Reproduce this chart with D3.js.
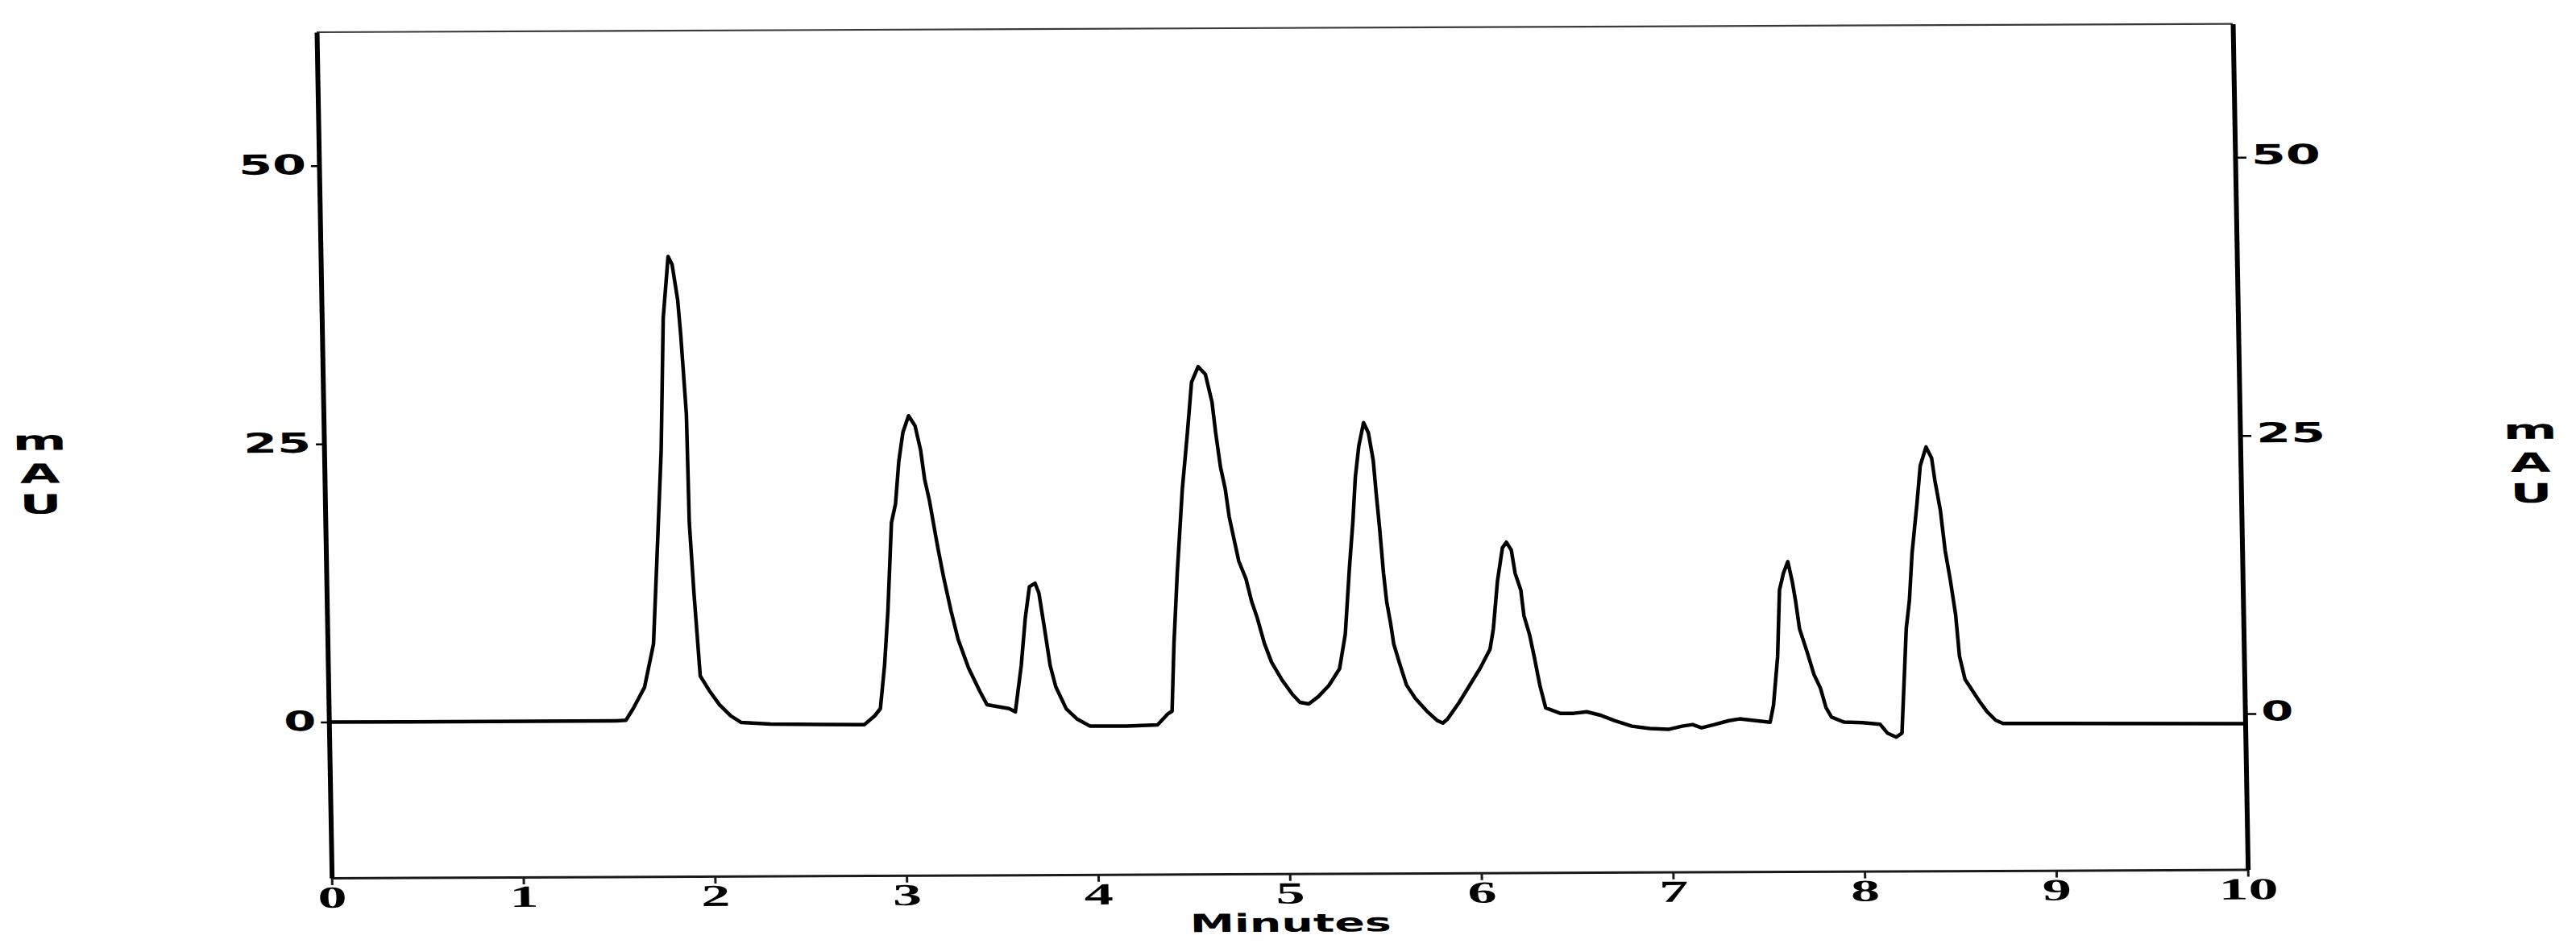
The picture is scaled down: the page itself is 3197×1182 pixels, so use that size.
<!DOCTYPE html>
<html>
<head>
<meta charset="utf-8">
<script src="https://cdn.jsdelivr.net/npm/d3@7"></script>
<style>
  html, body { margin: 0; padding: 0; background: #ffffff; }
  svg { display: block; }
</style>
</head>
<body>
<svg id="chart" width="3197" height="1182"></svg>
<script>
// ---- data ----
const xTicks = [0, 1, 2, 3, 4, 5, 6, 7, 8, 9, 10];
const yTicks = [0, 25, 50];
const xTitle = "Minutes";
const yTitle = "mAU";

const times = [
  0.00, 1.50, 1.55, 1.589, 1.650, 1.701, 1.727, 1.759, 1.782, 1.813, 1.833, 1.859, 1.872, 1.894, 1.899,
  1.917, 1.942, 1.987, 2.040, 2.098, 2.152, 2.304, 2.793, 2.849, 2.879, 2.905, 2.927, 2.954, 2.977,
  2.998, 3.022, 3.053, 3.086, 3.113, 3.131, 3.154, 3.178, 3.195, 3.222, 3.256, 3.291, 3.343, 3.400,
  3.436, 3.550, 3.583, 3.618, 3.643, 3.668, 3.698, 3.717, 3.744, 3.769, 3.796, 3.849, 3.903, 3.970,
  4.164, 4.324, 4.380, 4.401, 4.417, 4.441, 4.475, 4.507, 4.533, 4.569, 4.606, 4.638, 4.654, 4.676,
  4.699, 4.717, 4.740, 4.763, 4.799, 4.826, 4.854, 4.889, 4.925, 4.978, 5.031, 5.069, 5.115, 5.166,
  5.222, 5.279, 5.312, 5.340, 5.362, 5.379, 5.400, 5.427, 5.451, 5.474, 5.487, 5.501, 5.517, 5.531,
  5.550, 5.564, 5.592, 5.627, 5.672, 5.730, 5.784, 5.813, 5.838, 5.899, 5.956, 6.013, 6.066, 6.085,
  6.111, 6.140, 6.161, 6.186, 6.204, 6.232, 6.246, 6.274, 6.297, 6.323, 6.351, 6.426, 6.497, 6.565,
  6.632, 6.708, 6.799, 6.892, 6.989, 7.061, 7.116, 7.162, 7.230, 7.306, 7.361, 7.446, 7.521, 7.540,
  7.566, 7.582, 7.604, 7.628, 7.650, 7.665, 7.683, 7.719, 7.754, 7.787, 7.814, 7.842, 7.905, 8.003,
  8.095, 8.132, 8.178, 8.208, 8.221, 8.240, 8.259, 8.277, 8.308, 8.328, 8.360, 8.388, 8.403, 8.429,
  8.450, 8.473, 8.499, 8.515, 8.542, 8.579, 8.616, 8.653, 8.698, 8.736, 10.00
];
const absorbance = [
  0.0, 0.0, 0.05, 1.1, 3.0, 6.9, 14.6, 24.3, 36.2, 41.7, 41.0, 37.8, 34.6, 27.5, 17.8,
  11.4, 4.0, 2.7, 1.4, 0.4, -0.2, -0.35, -0.45, 0.35, 1.0, 4.9, 9.7, 17.7, 19.4,
  23.2, 25.8, 27.3, 26.4, 24.2, 21.6, 19.7, 17.1, 15.3, 12.7, 9.8, 7.2, 4.6, 2.5,
  1.3, 0.95, 0.65, 4.8, 9.0, 11.9, 12.2, 11.3, 8.0, 4.8, 2.9, 0.9, 0.0, -0.65,
  -0.68, -0.57, 0.43, 0.65, 6.7, 13.1, 20.6, 25.7, 30.2, 31.6, 30.9, 28.4, 25.7, 22.6,
  20.6, 18.1, 16.1, 14.1, 12.5, 10.5, 9.0, 6.7, 5.0, 3.4, 2.1, 1.4, 1.25, 1.9,
  2.9, 4.4, 7.5, 13.5, 17.6, 21.6, 24.4, 26.5, 25.6, 23.1, 20.0, 17.0, 13.0, 10.4,
  8.4, 6.6, 4.9, 2.9, 1.7, 0.56, -0.3, -0.53, -0.16, 1.3, 2.85, 4.4, 6.1, 7.9,
  12.2, 15.2, 15.7, 15.0, 12.9, 11.4, 9.1, 7.35, 5.3, 2.8, 0.8, 0.3, 0.3, 0.43,
  0.14, -0.37, -0.88, -1.1, -1.18, -0.9, -0.76, -1.05, -0.77, -0.42, -0.27, -0.43, -0.58, 0.94,
  5.3, 11.3, 12.8, 13.85, 12.0, 10.3, 7.8, 5.8, 3.7, 2.45, 0.7, -0.15, -0.59, -0.66,
  -0.81, -1.6, -1.97, -1.6, 2.2, 7.8, 10.3, 14.5, 19.1, 22.4, 24.1, 23.1, 21.1, 18.4,
  14.8, 12.3, 9.0, 5.3, 3.2, 2.2, 1.2, 0.3, -0.49, -0.78, -0.9
];

// ---- layout ----
const W = 2378, H = 1050;
const SANS = "'DejaVu Sans', 'Liberation Sans', Arial, sans-serif";
const SERIF = "'Liberation Serif', 'DejaVu Serif', 'Times New Roman', serif";

const svg = d3.select("#chart");
svg.append("rect").attr("width", 3197).attr("height", 1182).attr("fill", "#ffffff");

// slight skew/rotation of the scanned sheet
const g = svg.append("g").attr("transform", "matrix(1,-0.0044,0.0178,1,393,40)");

const x = d3.scaleLinear().domain([0, 10]).range([0, W]);
const y = d3.scaleLinear().domain([-14, 62]).range([H, 0]);

// top border
g.append("line")
  .attr("x1", x(0)).attr("x2", x(10))
  .attr("y1", 0).attr("y2", 0)
  .attr("stroke", "#3a3a3a").attr("stroke-width", 2.2);

// bottom axis
const xAxisG = g.append("g")
  .attr("transform", `translate(0,${H})`)
  .call(d3.axisBottom(x).tickValues(xTicks).tickSize(9).tickSizeOuter(0).tickFormat(d3.format("d")));
xAxisG.select(".domain").attr("stroke", "#1a1a1a").attr("stroke-width", 3);
xAxisG.selectAll(".tick line").attr("stroke", "#1a1a1a").attr("stroke-width", 3);
xAxisG.selectAll(".tick text")
  .attr("y", 37).attr("dy", 0)
  .attr("fill", "#000")
  .style("font-family", SERIF).style("font-weight", "bold").style("font-size", "38px")
  .attr("textLength", d => d >= 10 ? 74 : 36)
  .attr("lengthAdjust", "spacingAndGlyphs");

// left axis
const yAxisL = g.append("g")
  .call(d3.axisLeft(y).tickValues(yTicks).tickSize(10).tickSizeOuter(0).tickFormat(d3.format("d")));
yAxisL.select(".domain").attr("stroke", "#000").attr("stroke-width", 6);
yAxisL.selectAll(".tick line").attr("stroke", "#000").attr("stroke-width", 2.5);
yAxisL.selectAll(".tick text")
  .attr("x", -16).attr("dy", 0).attr("y", 10)
  .attr("text-anchor", "end")
  .attr("fill", "#000")
  .style("font-family", SANS).style("font-weight", "bold").style("font-size", "34px")
  .attr("textLength", d => d >= 10 ? 84 : 40)
  .attr("lengthAdjust", "spacingAndGlyphs");

// right axis
const yAxisR = g.append("g")
  .attr("transform", `translate(${W},0)`)
  .call(d3.axisRight(y).tickValues(yTicks).tickSize(14).tickSizeOuter(0).tickFormat(d3.format("d")));
yAxisR.select(".domain").attr("stroke", "#000").attr("stroke-width", 6);
yAxisR.selectAll(".tick line").attr("stroke", "#000").attr("stroke-width", 2.5);
yAxisR.selectAll(".tick text")
  .attr("x", 20).attr("dy", 0).attr("y", 8)
  .attr("text-anchor", "start")
  .attr("fill", "#000")
  .style("font-family", SANS).style("font-weight", "bold").style("font-size", "34px")
  .attr("textLength", d => d >= 10 ? 86 : 40)
  .attr("lengthAdjust", "spacingAndGlyphs");

// x title
g.append("text")
  .attr("x", W / 2).attr("y", H + 72)
  .attr("text-anchor", "middle")
  .attr("fill", "#000")
  .style("font-family", SANS).style("font-weight", "bold").style("font-size", "31px")
  .attr("textLength", 250).attr("lengthAdjust", "spacingAndGlyphs")
  .text(xTitle);

// y titles: letters stacked, stretched horizontally
function stackedTitle(cx) {
  const t = g.append("text")
    .attr("transform", `translate(${cx},0) scale(1.95,1)`)
    .attr("text-anchor", "middle")
    .attr("fill", "#000")
    .style("font-family", SANS).style("font-weight", "bold").style("font-size", "33px");
  const lineY = [517, 558, 596];
  yTitle.split("").forEach((ch, i) => {
    t.append("tspan").attr("x", 0).attr("y", lineY[i]).text(ch);
  });
}
stackedTitle(-353);
stackedTitle(W + 360);

// chromatogram trace
const pts = times.map((t, i) => [t, absorbance[i]]);
g.append("path")
  .datum(pts)
  .attr("fill", "none")
  .attr("stroke", "#000")
  .attr("stroke-width", 4.5)
  .attr("stroke-linejoin", "round")
  .attr("d", d3.line().x(d => x(d[0])).y(d => y(d[1])));
</script>
</body>
</html>
